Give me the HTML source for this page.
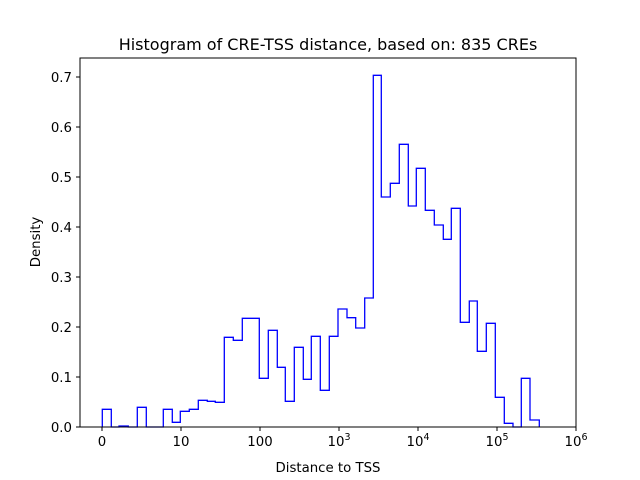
<!DOCTYPE html>
<html><head><meta charset="utf-8"><style>body{margin:0;background:#fff}svg{display:block}text{font-family:"DejaVu Sans","Liberation Sans",sans-serif;fill:#000}</style></head><body>
<svg width="640" height="480" viewBox="0 0 640 480">
<rect x="0" y="0" width="640" height="480" fill="#fff"/>
<path fill="none" stroke="#0000ff" stroke-width="1.3" d="M102.3,427 V409.3 H111.3 V427 H119 V426 H128.3 V427 H137.3 V407.3 H146.3 V427 H163.3 V409.3 H172.3 V422.3 H180.3 V411.3 H189.3 V409.3 H198.3 V400.3 H207.3 V401.3 H215.3 V402.3 H224.3 V337.3 H233.3 V340.3 H242.3 V318.3 H259.3 V378.3 H268.3 V330.3 H277.3 V367.3 H285.3 V401.3 H294.3 V347.3 H303.3 V379.3 H311.3 V336.3 H320.3 V390.3 H329.3 V336.3 H338 V309 H347 V317.7 H355.7 V328 H364.7 V298 H373.3 V75.3 H381.3 V197 H390.3 V183.3 H399.3 V144.3 H408.3 V206 H416.3 V168.3 H425.3 V210.3 H434.3 V225 H443.3 V239.3 H451.3 V208.3 H460.3 V322.3 H469.3 V301 H477.3 V351.3 H486.3 V323.3 H495.3 V397.3 H504.3 V423.3 H513 V427 H521.3 V378.3 H530 V420 H539.3 V427"/>
<rect x="80" y="58" width="496" height="369" fill="none" stroke="#000" stroke-width="1"/>
<g stroke="#000" stroke-width="1">
<line x1="102" y1="427" x2="102" y2="431"/><line x1="181" y1="427" x2="181" y2="431"/><line x1="260" y1="427" x2="260" y2="431"/><line x1="339" y1="427" x2="339" y2="431"/><line x1="418" y1="427" x2="418" y2="431"/><line x1="497" y1="427" x2="497" y2="431"/><line x1="576" y1="427" x2="576" y2="431"/>
<line x1="76" y1="427" x2="80" y2="427"/><line x1="76" y1="377" x2="80" y2="377"/><line x1="76" y1="327" x2="80" y2="327"/><line x1="76" y1="277" x2="80" y2="277"/><line x1="76" y1="227" x2="80" y2="227"/><line x1="76" y1="177" x2="80" y2="177"/><line x1="76" y1="127" x2="80" y2="127"/><line x1="76" y1="77" x2="80" y2="77"/>
</g>
<g font-size="13.3" text-anchor="end">
<text x="72" y="432">0.0</text><text x="72" y="382">0.1</text><text x="72" y="332">0.2</text><text x="72" y="282">0.3</text><text x="72" y="232">0.4</text><text x="72" y="182">0.5</text><text x="72" y="132">0.6</text><text x="72" y="82">0.7</text>
</g>
<g font-size="13.3" text-anchor="middle">
<text x="102" y="446">0</text><text x="181" y="446">10</text><text x="260" y="446">100</text>
<text x="339" y="446">10<tspan dy="-6" font-size="9.5">3</tspan></text>
<text x="418" y="446">10<tspan dy="-6" font-size="9.5">4</tspan></text>
<text x="497" y="446">10<tspan dy="-6" font-size="9.5">5</tspan></text>
<text x="576" y="446">10<tspan dy="-6" font-size="9.5">6</tspan></text>
</g>
<text x="328" y="472" font-size="13.3" text-anchor="middle">Distance to TSS</text>
<text x="40" y="242" font-size="13.3" text-anchor="middle" transform="rotate(-90 40 242)">Density</text>
<text x="328" y="50" font-size="16" text-anchor="middle">Histogram of CRE-TSS distance, based on: 835 CREs</text>
</svg>
</body></html>
